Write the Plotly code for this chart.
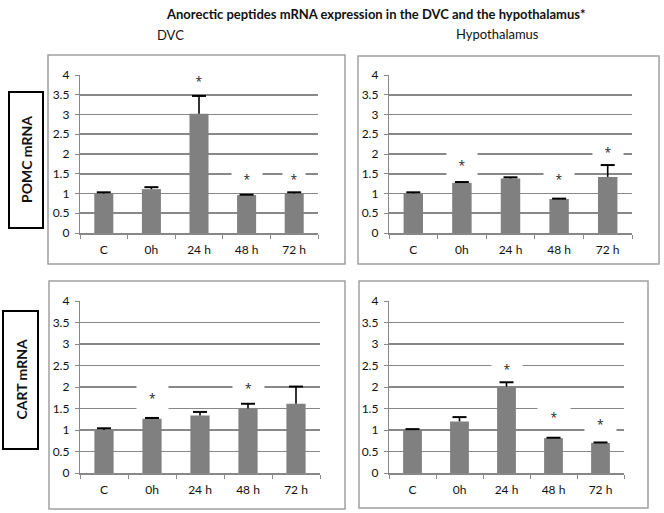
import plotly.graph_objects as go

# ---------------- data ----------------
categories = ["C", "0h", "24 h", "48 h", "72 h"]
y_tick_vals = [0, 0.5, 1, 1.5, 2, 2.5, 3, 3.5, 4]
y_tick_labels = ["0", "0.5", "1", "1.5", "2", "2.5", "3", "3.5", "4"]

dvc_pomc = [1.0, 1.11, 3.02, 0.96, 1.0]
dvc_pomc_err = [0.03, 0.05, 0.45, 0.01, 0.03]
hyp_pomc = [1.0, 1.27, 1.38, 0.86, 1.42]
hyp_pomc_err = [0.03, 0.02, 0.03, 0.01, 0.30]
dvc_cart = [1.0, 1.26, 1.34, 1.50, 1.61]
dvc_cart_err = [0.04, 0.02, 0.08, 0.11, 0.40]
hyp_cart = [1.0, 1.20, 2.01, 0.81, 0.70]
hyp_cart_err = [0.02, 0.10, 0.10, 0.01, 0.01]

# significance marks (category, height)
dvc_pomc_star_cats = ["24 h", "48 h", "72 h"]
dvc_pomc_star_y = [3.85, 1.37, 1.37]
hyp_pomc_star_cats = ["0h", "48 h", "72 h"]
hyp_pomc_star_y = [1.72, 1.37, 2.05]
dvc_cart_star_cats = ["0h", "48 h"]
dvc_cart_star_y = [1.74, 1.98]
hyp_cart_star_cats = ["24 h", "48 h", "72 h"]
hyp_cart_star_y = [2.42, 1.30, 1.14]

title_text = "Anorectic peptides mRNA expression in the DVC and the hypothalamus*"
column_titles = ["DVC", "Hypothalamus"]
row_titles = ["POMC mRNA", "CART mRNA"]

# ---------------- style ----------------
W, H = 664, 513
FONT = "Lato, 'Open Sans', sans-serif"
STAR_FONT = "'Open Sans', sans-serif"
GRID = "#888888"
BAR = "#808080"


def px_x(v):
    return v / W


def px_y(v):
    return (H - v) / H


panels = [
    dict(ax="", vals=dvc_pomc, err=dvc_pomc_err, sc=dvc_pomc_star_cats, sy=dvc_pomc_star_y,
         bh=[16, 16, 16], bw=[30, 30, 22], dom_x=(80, 318), dom_y=(75, 233)),
    dict(ax="2", vals=hyp_pomc, err=hyp_pomc_err, sc=hyp_pomc_star_cats, sy=hyp_pomc_star_y,
         bh=[26, 16, 16], bw=[30, 30, 30], dom_x=(389, 632), dom_y=(75, 233)),
    dict(ax="3", vals=dvc_cart, err=dvc_cart_err, sc=dvc_cart_star_cats, sy=dvc_cart_star_y,
         bh=[26, 16], bw=[31, 31], dom_x=(80, 320), dom_y=(301, 473)),
    dict(ax="4", vals=hyp_cart, err=hyp_cart_err, sc=hyp_cart_star_cats, sy=hyp_cart_star_y,
         bh=[16, 22, 20], bw=[30, 32, 31], dom_x=(389, 624), dom_y=(301, 473)),
]

fig = go.Figure()
annotations = []
layout_axes = {}

for p in panels:
    xa, ya = "x" + p["ax"], "y" + p["ax"]
    fig.add_trace(go.Bar(x=categories, y=p["vals"], marker=dict(color=BAR, line=dict(width=0)),
                         xaxis=xa, yaxis=ya, showlegend=False, hoverinfo="skip"))
    sx, sy = [], []
    for c, v, e in zip(categories, p["vals"], p["err"]):
        sx += [c, c, None]
        sy += [v, v + e, None]
    fig.add_trace(go.Scatter(x=sx, y=sy, mode="lines", line=dict(color="black", width=1.6),
                             xaxis=xa, yaxis=ya, showlegend=False, hoverinfo="skip"))
    fig.add_trace(go.Scatter(x=categories, y=[v + e for v, e in zip(p["vals"], p["err"])],
                             mode="markers",
                             marker=dict(symbol="line-ew", size=10, line=dict(color="black", width=2)),
                             xaxis=xa, yaxis=ya, showlegend=False, hoverinfo="skip"))
    for c, y, bh, bw in zip(p["sc"], p["sy"], p["bh"], p["bw"]):
        annotations.append(dict(x=c, y=y, xref=xa, yref=ya, text="*", showarrow=False,
                                font=dict(family=STAR_FONT, size=12, color="#222"),
                                bgcolor="white", width=bw, height=bh, borderpad=0,
                                valign="middle", yanchor="middle", xanchor="center"))
    key = "" if p["ax"] == "" else p["ax"]
    layout_axes["xaxis" + key] = dict(
        domain=[px_x(p["dom_x"][0]), px_x(p["dom_x"][1])], anchor=ya, type="category",
        categoryorder="array", categoryarray=categories, range=[-0.5, 4.5],
        showline=True, linecolor=GRID, linewidth=1.5, ticks="outside", tickson="boundaries",
        ticklen=4, tickcolor=GRID, tickwidth=1, showgrid=False, ticklabelstandoff=5,
        tickfont=dict(family=FONT, size=12, color="#111"), fixedrange=True, automargin=False)
    layout_axes["yaxis" + key] = dict(
        domain=[px_y(p["dom_y"][1]), px_y(p["dom_y"][0])], anchor=xa, range=[0, 4],
        tickvals=y_tick_vals, ticktext=y_tick_labels, showgrid=True, gridcolor=GRID,
        gridwidth=1.6, showline=True, linecolor=GRID, linewidth=1.2, ticks="outside",
        ticklen=4, tickcolor=GRID, zeroline=False, ticklabelstandoff=3,
        tickfont=dict(family=FONT, size=12, color="#111"), fixedrange=True, automargin=False)

# titles
annotations.append(dict(x=px_x(375), y=px_y(14), xref="paper", yref="paper", text="<b>" + title_text + "</b>",
                        showarrow=False, font=dict(family=FONT, size=13, color="#111"),
                        xanchor="center", yanchor="middle"))
annotations.append(dict(x=px_x(170), y=px_y(35), xref="paper", yref="paper", text=column_titles[0],
                        showarrow=False, font=dict(family=FONT, size=13, color="#111"),
                        xanchor="center", yanchor="middle"))
annotations.append(dict(x=px_x(497), y=px_y(34), xref="paper", yref="paper", text=column_titles[1],
                        showarrow=False, font=dict(family=FONT, size=13, color="#111"),
                        xanchor="center", yanchor="middle"))
annotations.append(dict(x=px_x(26), y=px_y(160), xref="paper", yref="paper", text="<b>" + row_titles[0] + "</b>",
                        showarrow=False, textangle=-90, font=dict(family=FONT, size=14, color="#111"),
                        xanchor="center", yanchor="middle"))
annotations.append(dict(x=px_x(20.5), y=px_y(380), xref="paper", yref="paper", text="<b>" + row_titles[1] + "</b>",
                        showarrow=False, textangle=-90, font=dict(family=FONT, size=14, color="#111"),
                        xanchor="center", yanchor="middle"))

shapes = []
# panel frames
for x0, y0, x1, y1 in [(48, 55, 345, 264), (358, 56, 659, 264), (49, 281, 345, 509), (359, 281, 648, 508)]:
    shapes.append(dict(type="rect", xref="paper", yref="paper", x0=px_x(x0), x1=px_x(x1),
                       y0=px_y(y1), y1=px_y(y0), line=dict(color="#a0a0a0", width=1.5),
                       fillcolor="rgba(0,0,0,0)", layer="below"))
# row label boxes
for x0, y0, x1, y1 in [(9, 92, 43, 228), (3, 311, 38, 449)]:
    shapes.append(dict(type="rect", xref="paper", yref="paper", x0=px_x(x0), x1=px_x(x1),
                       y0=px_y(y1), y1=px_y(y0), line=dict(color="black", width=2),
                       fillcolor="rgba(0,0,0,0)", layer="below"))

fig.update_layout(
    width=W, height=H, autosize=False,
    margin=dict(l=0, r=0, t=0, b=0, pad=0),
    paper_bgcolor="white", plot_bgcolor="white",
    bargap=0.6, showlegend=False,
    annotations=annotations, shapes=shapes,
    font=dict(family=FONT),
    **layout_axes,
)

fig.write_html(
    "out.html",
    config={"displayModeBar": False, "staticPlot": True},
    post_script=(
        "document.documentElement.style.margin='0';document.body.style.margin='0';"
        "document.documentElement.style.overflow='hidden';document.body.style.overflow='hidden';"
    ),
)
